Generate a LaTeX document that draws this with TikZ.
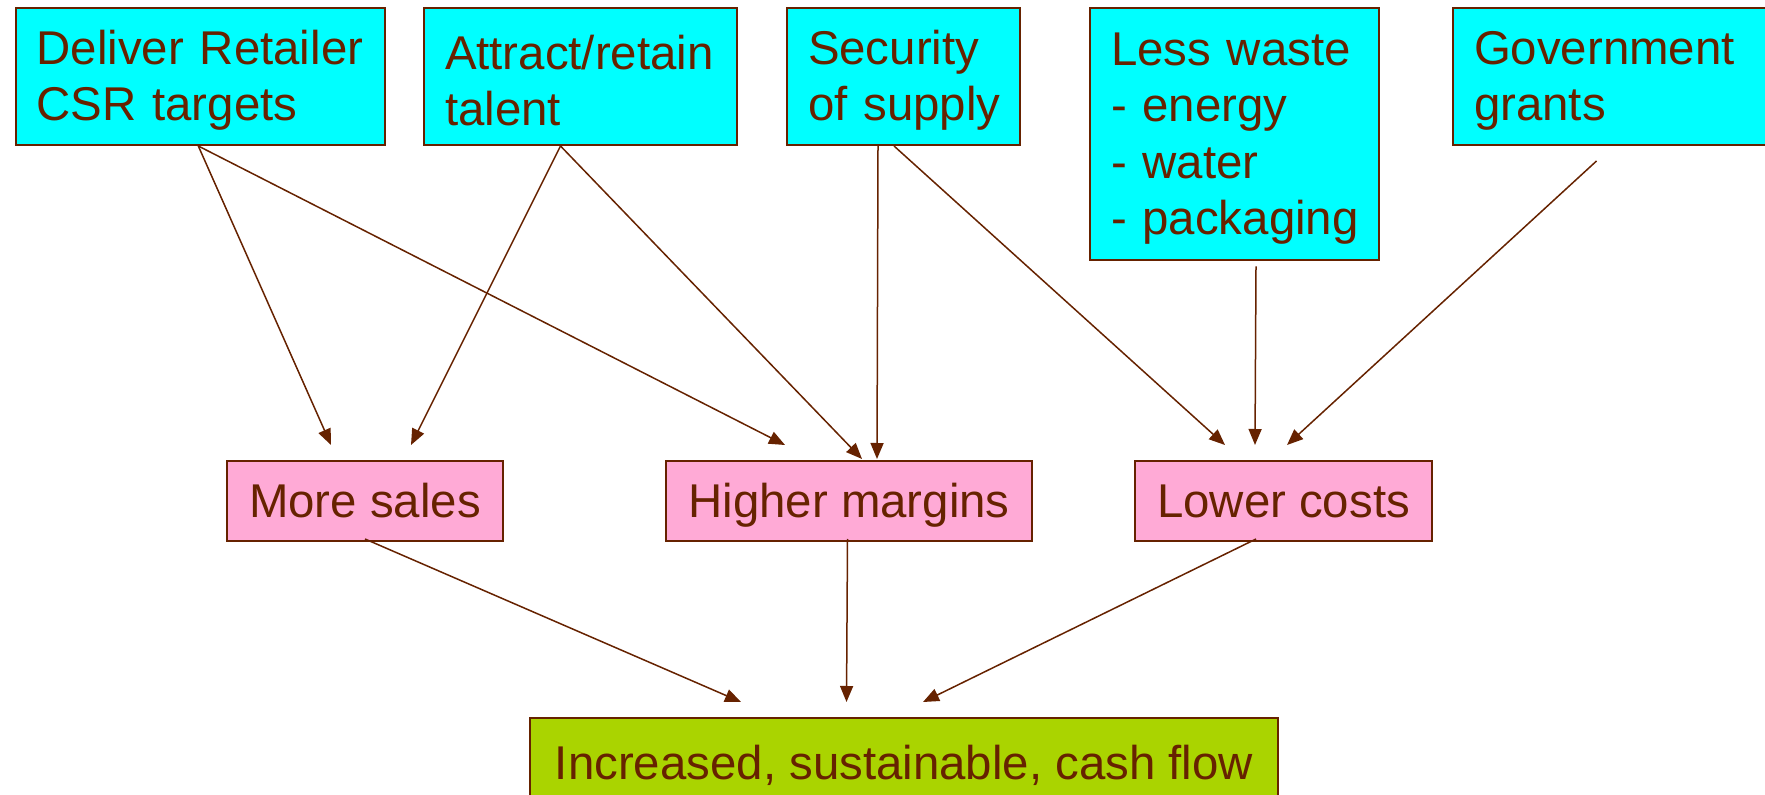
\documentclass[tikz,border=0pt]{standalone}
\usepackage{fontspec}
\setmainfont{Liberation Sans}
\usetikzlibrary{arrows.meta,calc}
\definecolor{brn}{HTML}{662200}
\definecolor{cy}{HTML}{00FFFF}
\definecolor{pk}{HTML}{FFAAD6}
\definecolor{gr}{HTML}{AAD400}
\newcommand{\oneline}[1]{\mbox{#1}}
\newcommand{\firstline}[1]{\mbox{\rule{0pt}{21pt}#1}}
\begin{document}
\begin{tikzpicture}[x=0.5pt,y=-0.5pt,
  topbox/.style={draw=brn,line width=1pt,fill=cy,text=brn,anchor=north west,
    inner xsep=10.5pt,inner ysep=0pt,align=left,minimum height=68.6pt,
    font=\fontsize{23.7}{28.15}\selectfont},
  midbox/.style={draw=brn,line width=1pt,fill=pk,text=brn,anchor=north west,
    inner sep=0pt,minimum height=40pt,text height=17pt,text depth=0pt,
    font=\fontsize{23.7}{28.15}\selectfont},
  botbox/.style={draw=brn,line width=1pt,fill=gr,text=brn,anchor=north west,
    inner sep=0pt,minimum height=44pt,text height=17pt,text depth=0pt,
    font=\fontsize{23.7}{28.15}\selectfont},
  arr/.style={draw=brn,line width=0.75pt,-{Triangle[length=8pt,width=6.5pt]}}]
\useasboundingbox (0,0) rectangle (1765,795);
% top boxes
\node[topbox,text width=163.7pt] (b1) at (14.6,6.8) {\firstline{Deliver Retailer}\\\oneline{CSR targets}};
\node[topbox,text width=135.5pt] (b2) at (423,6.8) {\firstline{Attract/retain}\\\oneline{talent}};
\node[topbox,text width=95.5pt] (b3) at (786,6.8) {\firstline{Security}\\\oneline{of supply}};
\node[topbox,text width=123.5pt,minimum height=126pt] (b4) at (1089,6.8) {\firstline{Less waste}\\\oneline{- energy}\\\oneline{- water}\\\oneline{- packaging}};
\node[topbox,text width=144pt] (b5) at (1452,6.8) {\firstline{Government}\\\oneline{grants}};
% middle boxes
\node[midbox,minimum width=138pt] (ms) at (226,460) {More sales};
\node[midbox,minimum width=183pt] (hm) at (665,460) {Higher margins};
\node[midbox,minimum width=148.5pt] (lc) at (1134,460) {Lower costs};
% bottom box
\node[botbox,minimum width=374pt] (cf) at (529,717) {Increased, sustainable, cash flow};
% arrow end points
\coordinate (e1) at (331,445);
\coordinate (e2) at (785,445);
\coordinate (e3) at (411,445);
\coordinate (e4) at (862,459);
\coordinate (e5) at (877,459);
\coordinate (e6) at (1225,445);
\coordinate (e7) at (1255,445);
\coordinate (e8) at (1287,445);
\coordinate (e9) at (741,702);
\coordinate (e10) at (846.5,702);
\coordinate (e11) at (923,702);
% arrows
\draw[arr] ($(b1.south)+(-2,0)$) -- (e1);
\draw[arr] ($(b1.south)+(-2,0)$) -- (e2);
\draw[arr] ($(b2.south)+(-20,0)$) -- (e3);
\draw[arr] ($(b2.south)+(-20,0)$) -- (e4);
\draw[arr] ($(b3.south)+(-25.5,0)$) -- (e5);
\draw[arr] ($(b3.south)+(-9.5,0)$) -- (e6);
\draw[arr] ($(b4.south)+(21.5,5.5)$) -- (e7);
\draw[arr] ($(b5.south)+(-21.5,15)$) -- (e8);
\draw[arr] ($(ms.south)+(0,-3)$) -- (e9);
\draw[arr] ($(hm.south)+(-1.5,-3)$) -- (e10);
\draw[arr] ($(lc.south)+(-27.5,-3)$) -- (e11);
\end{tikzpicture}
\end{document}
